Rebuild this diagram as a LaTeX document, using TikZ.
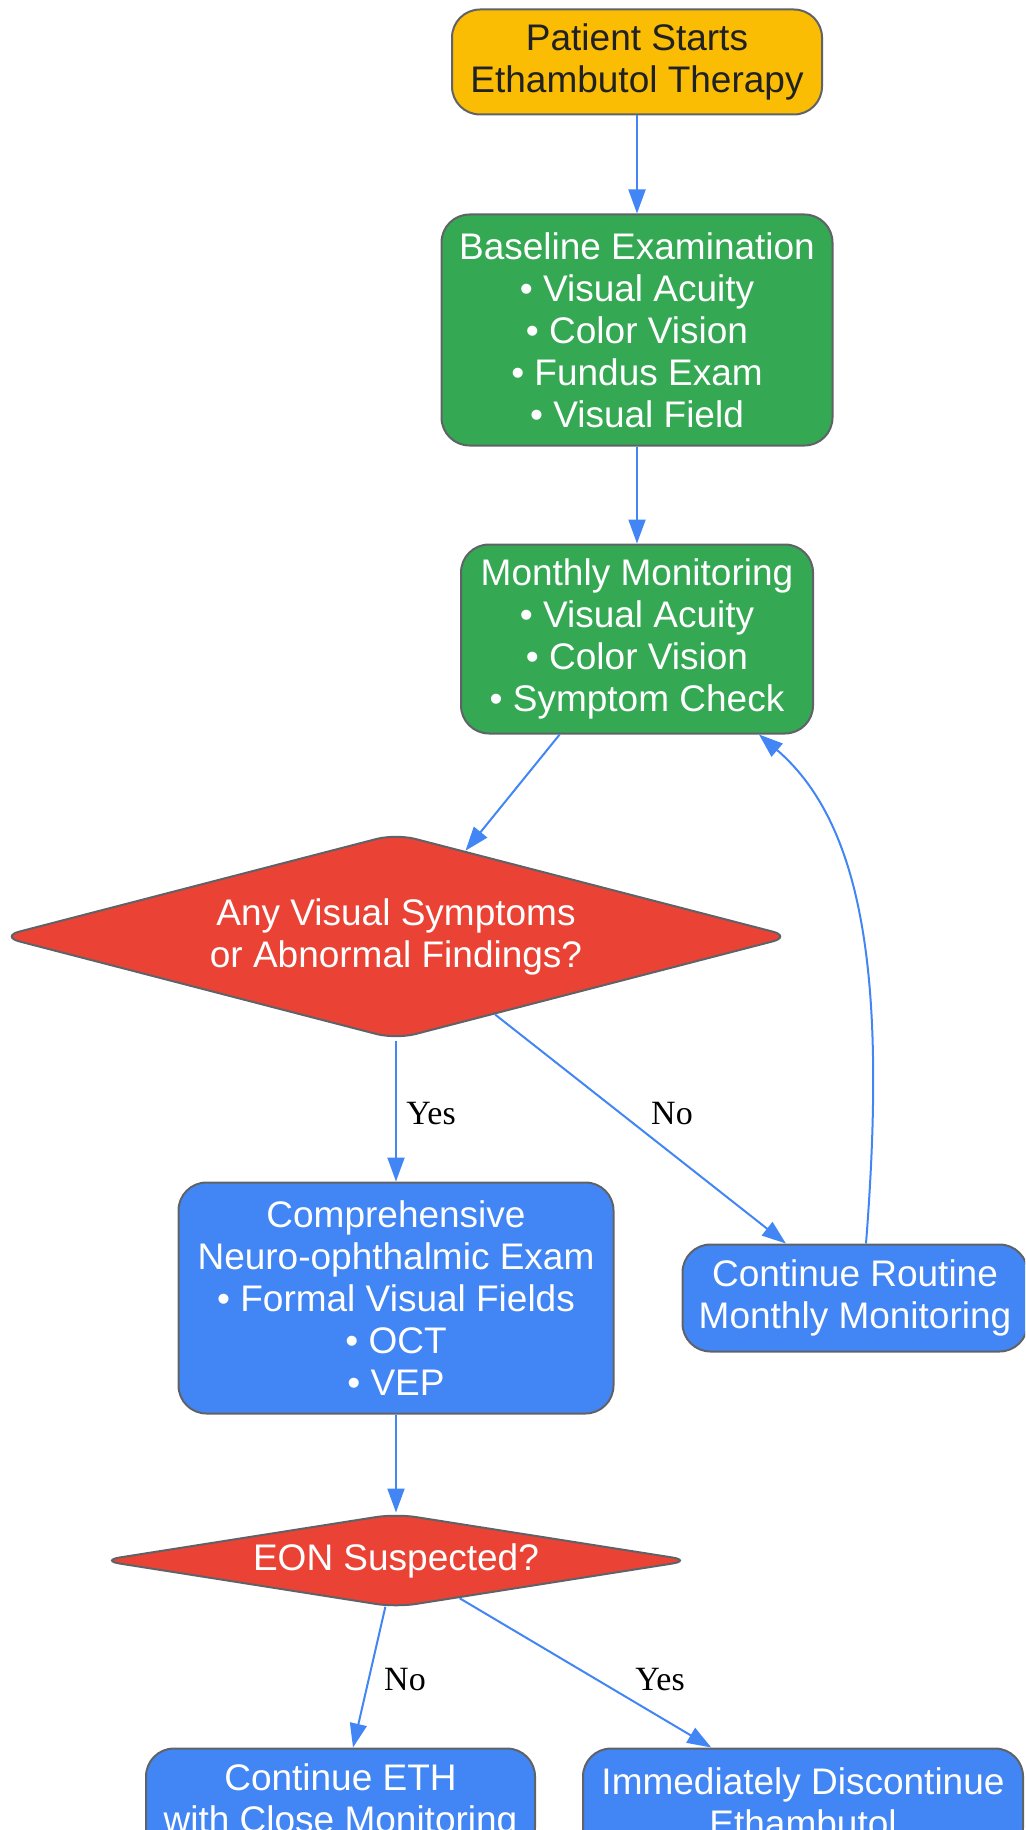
\documentclass[tikz,border=0pt]{standalone}
\usepackage{fontspec}
\setmainfont{Liberation Sans}
\newfontfamily\seriflbl{Liberation Serif}
\usepackage{tikz}
\usepackage{xcolor}
\usetikzlibrary{shapes.geometric,arrows.meta}
\definecolor{startyellow}{HTML}{FBBC04}
\definecolor{okgreen}{HTML}{34A853}
\definecolor{alertred}{HTML}{EA4335}
\definecolor{actblue}{HTML}{4285F4}
\definecolor{bordergrey}{HTML}{5F6368}
\definecolor{darktext}{HTML}{202124}
\tikzstyle{box} = [rectangle, rounded corners=14pt, draw=bordergrey, line width=1pt, align=center, text=white, inner sep=0pt, font=\fontsize{18.5}{21}\selectfont]
\tikzstyle{decision} = [diamond, rounded corners=10pt, draw=bordergrey, line width=1pt, align=center, text=white, inner sep=0pt, font=\fontsize{18.5}{21}\selectfont]
\tikzstyle{arr} = [draw=actblue, line width=1pt, -{Triangle[length=12pt,width=8.5pt]}]
\tikzstyle{lbl} = [text=black, font=\seriflbl\fontsize{17}{20}\selectfont]

\begin{document}
\begin{tikzpicture}[x=0.5pt, y=-0.5pt]
\useasboundingbox (0,0) rectangle (1025,1830);
\clip (0,0) rectangle (1025,1830);

\node[box, fill=startyellow, text=darktext, minimum width=185pt, minimum height=52.5pt] (start) at (637,62) {Patient Starts\\Ethambutol Therapy};
\node[box, fill=okgreen, minimum width=195.5pt, minimum height=115.5pt] (base) at (637,330) {Baseline Examination\\• Visual Acuity\\• Color Vision\\• Fundus Exam\\• Visual Field};
\node[box, fill=okgreen, minimum width=176pt, minimum height=94.5pt] (month) at (637,639) {Monthly Monitoring\\• Visual Acuity\\• Color Vision\\• Symptom Check};
\node[decision, fill=alertred, minimum width=396pt, minimum height=103pt, aspect=3.85] (q1) at (396,936.5) {Any Visual Symptoms\\or Abnormal Findings?};
\node[box, fill=actblue, minimum width=217.5pt, minimum height=115.5pt] (exam) at (396,1298) {Comprehensive\\Neuro-ophthalmic Exam\\• Formal Visual Fields\\• OCT\\• VEP};
\node[box, fill=actblue, minimum width=172.5pt, minimum height=53.5pt] (routine) at (855,1298) {Continue Routine\\Monthly Monitoring};
\node[decision, fill=alertred, minimum width=296pt, minimum height=47pt, aspect=6.3] (q2) at (396,1560.5) {EON Suspected?};
\node[box, fill=actblue, minimum width=194.5pt, minimum height=53.5pt] (eth) at (340.5,1802) {Continue ETH\\with Close Monitoring};
\node[box, fill=actblue, minimum width=220pt, minimum height=53.5pt] (stop) at (803,1802) {Immediately Discontinue\\Ethambutol};

\foreach \from/\to in {start/base,base/month,month/q1,q1/exam,q1/routine,exam/q2,q2/eth,q2/stop}
{
	\draw[arr] (\from) -- (\to);
}
\draw[arr] ([xshift=5.5pt]routine.north) .. controls (885,1000) and (870,830) .. ([xshift=61pt]month.south);

\node[lbl] (yes1) at (431,1114) {Yes};
\node[lbl] (no1) at (672,1114) {No};
\node[lbl] (no2) at (405,1680) {No};
\node[lbl] (yes2) at (660,1680) {Yes};

\end{tikzpicture}
\end{document}
